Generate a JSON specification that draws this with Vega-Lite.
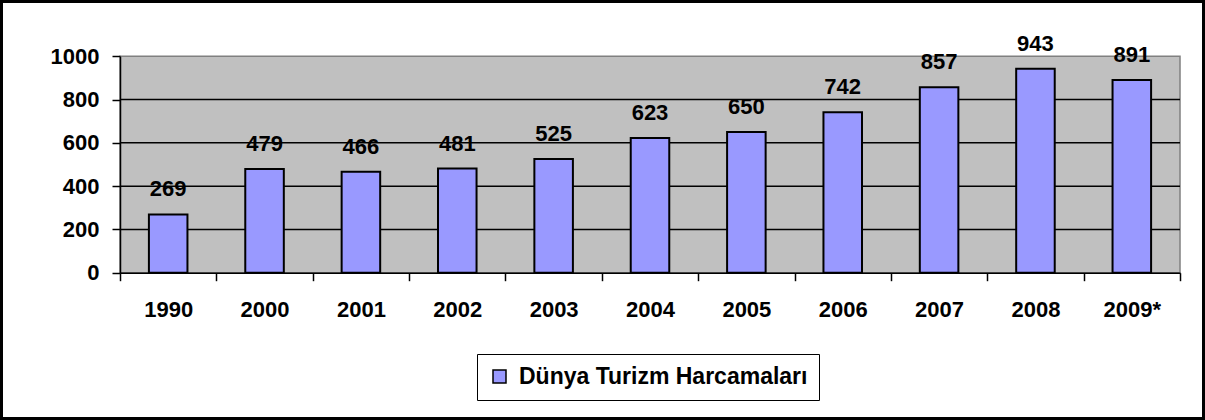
{
  "$schema": "https://vega.github.io/schema/vega-lite/v6.json",
  "width": 1205,
  "height": 420,
  "autosize": {"type": "none"},
  "padding": 0,
  "background": "white",
  "config": {
    "view": {"stroke": "black", "strokeWidth": 6},
    "font": "Liberation Sans"
  },
  "datasets": {
    "main": [
      {"year": "1990", "value": 269},
      {"year": "2000", "value": 479},
      {"year": "2001", "value": 466},
      {"year": "2002", "value": 481},
      {"year": "2003", "value": 525},
      {"year": "2004", "value": 623},
      {"year": "2005", "value": 650},
      {"year": "2006", "value": 742},
      {"year": "2007", "value": 857},
      {"year": "2008", "value": 943},
      {"year": "2009*", "value": 891}
    ],
    "grid": [{"g": 200}, {"g": 400}, {"g": 600}, {"g": 800}],
    "area": [{"area": "plot"}]
  },
  "layer": [
    {
      "data": {"name": "area"},
      "mark": {"type": "rect", "fill": "#C0C0C0", "stroke": "#808080", "strokeWidth": 1.5},
      "encoding": {
        "x": {"datum": "1990", "type": "nominal", "bandPosition": 0},
        "x2": {"datum": "2009*", "bandPosition": 1},
        "y": {"datum": 0, "type": "quantitative"},
        "y2": {"datum": 1000}
      }
    },
    {
      "data": {"name": "grid"},
      "mark": {"type": "rule", "stroke": "black", "strokeWidth": 1.5},
      "encoding": {
        "x": {"datum": "1990", "type": "nominal", "bandPosition": 0},
        "x2": {"datum": "2009*", "bandPosition": 1},
        "y": {"field": "g", "type": "quantitative"}
      }
    },
    {
      "data": {"name": "main"},
      "mark": {"type": "bar", "stroke": "black", "strokeWidth": 2, "width": {"band": 0.4}},
      "encoding": {
        "x": {
          "field": "year",
          "type": "nominal",
          "sort": null,
          "scale": {
            "domain": ["1990", "2000", "2001", "2002", "2003", "2004", "2005", "2006", "2007", "2008", "2009*"],
            "range": [120, 1180],
            "paddingInner": 0,
            "paddingOuter": 0
          },
          "axis": {
            "title": null,
            "labelAngle": 0,
            "bandPosition": 0.5,
            "tickBand": "extent",
            "labelAlign": "center",
            "offset": -147.3,
            "grid": false,
            "domainColor": "black",
            "domainWidth": 1.5,
            "tickColor": "black",
            "tickWidth": 1.5,
            "tickSize": 8,
            "labelFont": "Liberation Sans",
            "labelFontSize": 22,
            "labelFontWeight": "bold",
            "labelColor": "black",
            "labelPadding": 29,
            "zindex": 1
          }
        },
        "y": {
          "field": "value",
          "type": "quantitative",
          "scale": {"domain": [0, 1000], "range": [272.7, 56.3], "nice": false},
          "axis": {
            "title": null,
            "offset": -120,
            "values": [0, 200, 400, 600, 800, 1000],
            "format": "d",
            "grid": false,
            "domainColor": "black",
            "domainWidth": 1.5,
            "tickColor": "black",
            "tickWidth": 1.5,
            "tickSize": 8,
            "labelFont": "Liberation Sans",
            "labelFontSize": 22,
            "labelFontWeight": "bold",
            "labelColor": "black",
            "labelPadding": 13,
            "zindex": 1
          }
        },
        "color": {
          "datum": "Dünya Turizm Harcamaları",
          "type": "nominal",
          "scale": {"range": ["#9999FF"]},
          "legend": {
            "title": null,
            "orient": "none",
            "legendX": 477,
            "legendY": 354,
            "strokeColor": "black",
            "fillColor": "white",
            "padding": 11,
            "symbolType": "square",
            "symbolSize": 169,
            "symbolStrokeColor": "black",
            "symbolStrokeWidth": 1.5,
            "symbolOpacity": 1,
            "labelFont": "Liberation Sans",
            "labelFontSize": 23,
            "labelFontWeight": "bold",
            "labelColor": "black",
            "labelOffset": 8,
            "labelLimit": 500
          }
        }
      }
    },
    {
      "data": {"name": "main"},
      "mark": {"type": "text", "baseline": "alphabetic", "dy": -18, "fontSize": 22, "fontWeight": "bold", "font": "Liberation Sans", "color": "black"},
      "encoding": {
        "x": {"field": "year", "type": "nominal", "sort": null},
        "y": {"field": "value", "type": "quantitative"},
        "text": {"field": "value", "type": "quantitative"}
      }
    }
  ]
}
